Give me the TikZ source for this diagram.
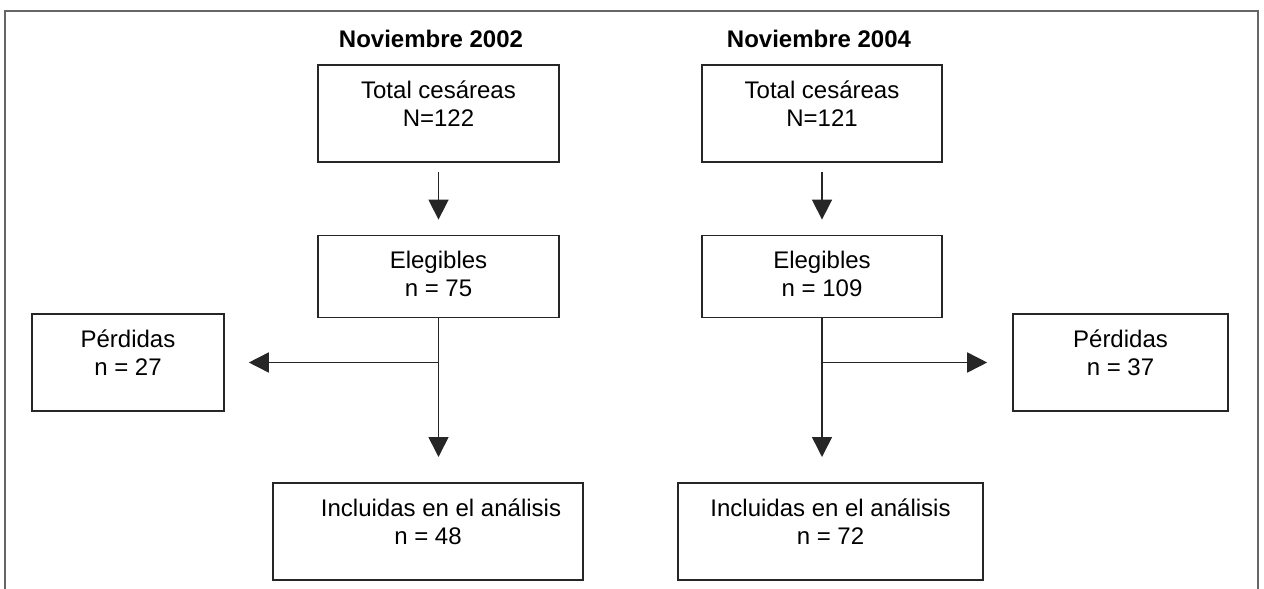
\documentclass[tikz,border=0pt]{standalone}
\usepackage{fontspec}
\setmainfont{Liberation Sans}
\usepackage{tikz}
\usetikzlibrary{positioning, arrows.meta}

\begin{document}
\begin{tikzpicture}[
        x=0.5pt, y=-0.5pt,
        font=\fontsize{12}{14}\selectfont,
        caja/.style={draw=black!85, line width=0.8pt, align=center, inner xsep=0pt, inner ysep=0pt, text height=30.75pt, text depth=17.75pt},
        cajab/.style={caja, text depth=10.25pt},
        flecha/.style={line width=0.8pt, draw=black!85, -{Triangle[length=10pt, width=10pt]}},
        titulo/.style={font=\fontsize{12}{14}\selectfont\bfseries, anchor=base, inner sep=0pt},
      ]
        \useasboundingbox (0,0) rectangle (1264,589);
        % marco
        \draw[black!60, line width=0.6pt] (5,589) -- (5,11) -- (1258,11) -- (1258,589);
        % noviembre 2002
        \node[titulo] (tit1) at (431,47) {Noviembre 2002};
        \node[caja, minimum width=120.5pt, anchor=north] (tot1) at (438.5,64) {Total cesáreas\\N=122};
        \node[cajab, minimum width=120.5pt, below=36pt of tot1] (ele1) {Elegibles\\n = 75};
        \node[caja, minimum width=96pt] (per1) at (128,362.5) {Pérdidas\\n = 27};
        \node[caja, minimum width=155pt, anchor=north] (inc1) at (428,482) {\hspace*{13pt}Incluidas en el análisis\\n = 48};
        % noviembre 2004
        \node[titulo] (tit2) at (819,47) {Noviembre 2004};
        \node[caja, minimum width=120pt, anchor=north] (tot2) at (822,64) {Total cesáreas\\N=121};
        \node[cajab, minimum width=120pt, below=36pt of tot2] (ele2) {Elegibles\\n = 109};
        \node[caja, minimum width=107.5pt] (per2) at (1120.5,362.5) {Pérdidas\\n = 37};
        \node[caja, minimum width=152.5pt, anchor=north] (inc2) at (830.5,482) {Incluidas en el análisis\\n = 72};
        % flechas
        \coordinate (j1) at (ele1.south |- per1.east);
        \coordinate (j2) at (ele2.south |- per2.west);
        \draw[flecha] ([yshift=-4.5pt]tot1.south) -- ([yshift=7.5pt]ele1.north);
        \draw[flecha] ([yshift=-4.5pt]tot2.south) -- ([yshift=7.5pt]ele2.north);
        \draw[flecha] (ele1.south) -- ([yshift=12.5pt]ele1.south |- inc1.north);
        \draw[flecha] (ele2.south) -- ([yshift=12.5pt]ele2.south |- inc2.north);
        \draw[flecha] (j1) -- ([xshift=12pt]per1.east);
        \draw[flecha] (j2) -- ([xshift=-12.5pt]per2.west);
      \end{tikzpicture}
\end{document}
